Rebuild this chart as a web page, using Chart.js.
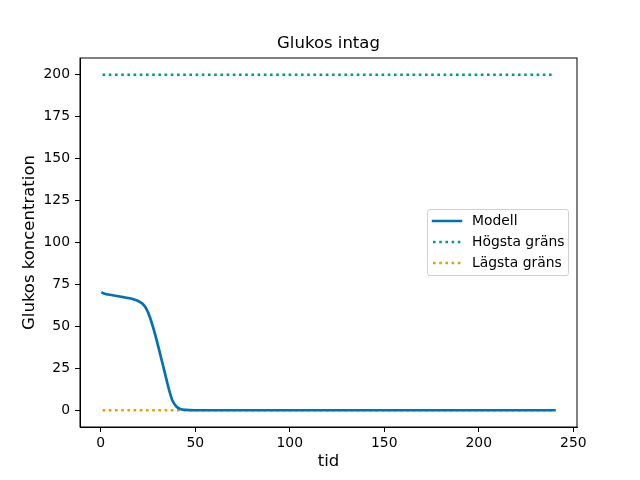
<!DOCTYPE html>
<html>
<head>
<meta charset="utf-8">
<script src="https://cdn.jsdelivr.net/npm/chart.js@4.4.1/dist/chart.umd.min.js"></script>
<style>
  body { margin: 0; background: #fff; }
  #wrap { position: relative; width: 640px; height: 480px; }
  #legend {
    position: absolute; left: 427px; top: 209px; width: 140px; height: 65px;
    border: 1px solid #d0d0d0; border-radius: 3px; background: rgba(255,255,255,0.8);
    font-family: "DejaVu Sans", sans-serif; font-size: 13.9px; color: #000;
  }
  .row { position: absolute; left: 0; height: 20px; width: 140px; }
  .row svg { position: absolute; left: 2px; top: 4px; }
  .row span { position: absolute; left: 44px; top: 1px; white-space: nowrap; }
</style>
</head>
<body>
<div id="wrap">
  <canvas id="glukosChart" width="640" height="480"></canvas>
  <div id="legend"></div>
</div>
<script>
// tid och glukosvärden
const tid = [1, 2, 4, 7, 10, 13, 16, 18, 20, 22, 24, 26, 28, 30, 32, 34, 36, 38, 40, 42, 45, 50, 240];
const modell = [70, 69.4, 69, 68.4, 67.8, 67.2, 66.6, 65.9, 65, 63.6, 60.7, 55.6, 48.3, 40, 31, 22, 12.8, 5.6, 2.2, 0.8, 0.2, 0, 0];

const gransTid = [1, 240];
const hogstaGrans = [200, 200];
const lagstaGrans = [0, 0];

const xTicks = [0, 50, 100, 150, 200, 250];
const yTicks = [0, 25, 50, 75, 100, 125, 150, 175, 200];

const titel = 'Glukos intag';

const colModell = '#0072B2';
const colHogsta = '#009E73';
const colLagsta = '#E69F00';

const font = "'DejaVu Sans', sans-serif";

const toXY = (xs, ys) => xs.map((x, i) => ({ x: x, y: ys[i] }));

// ram runt ritytan + titel centrerad över ritytan
const frame = {
  id: 'frame',
  afterDraw(chart) {
    const { ctx, chartArea: a } = chart;
    ctx.save();
    ctx.strokeStyle = '#000';
    ctx.lineWidth = 1;
    ctx.strokeRect(a.left, a.top, a.right - a.left, a.bottom - a.top);
    ctx.fillStyle = '#000';
    ctx.font = '16.5px ' + font;
    ctx.textAlign = 'center';
    ctx.textBaseline = 'middle';
    ctx.fillText(titel, (a.left + a.right) / 2, 44);
    ctx.restore();
  }
};

const axisStyle = {
  grid: { display: true, drawOnChartArea: false, drawTicks: true, tickLength: 5, color: '#000' },
  border: { display: true, color: '#000', width: 1 }
};

new Chart(document.getElementById('glukosChart'), {
  type: 'line',
  data: {
    datasets: [
      {
        label: 'Modell',
        data: toXY(tid, modell),
        borderColor: colModell,
        borderWidth: 2.7,
        borderCapStyle: 'square',
        cubicInterpolationMode: 'monotone',
        pointRadius: 0
      },
      {
        label: 'Högsta gräns',
        data: toXY(gransTid, hogstaGrans),
        borderColor: colHogsta,
        borderWidth: 2.5,
        borderDash: [2.6, 3.6],
        pointRadius: 0
      },
      {
        label: 'Lägsta gräns',
        data: toXY(gransTid, lagstaGrans),
        borderColor: colLagsta,
        borderWidth: 2.5,
        borderDash: [2.6, 3.6],
        pointRadius: 0
      }
    ]
  },
  options: {
    responsive: false,
    animation: false,
    layout: { padding: { left: 0, right: 63, top: 58, bottom: 0 } },
    plugins: {
      legend: { display: false },
      tooltip: { enabled: false },
      title: { display: false }
    },
    scales: {
      x: {
        type: 'linear',
        min: -10.95,
        max: 251.95,
        ...axisStyle,
        afterBuildTicks: s => { s.ticks = xTicks.map(v => ({ value: v })); },
        afterFit: s => { s.height = 53; },
        ticks: { color: '#000', padding: 3, font: { family: font, size: 13.9 } },
        title: {
          display: true, text: 'tid', color: '#000',
          font: { family: font, size: 16.5 }, padding: { top: 0, bottom: 8 }
        }
      },
      y: {
        type: 'linear',
        min: -10,
        max: 210,
        ...axisStyle,
        afterBuildTicks: s => { s.ticks = yTicks.map(v => ({ value: v })); },
        afterFit: s => { s.width = 80; },
        ticks: { color: '#000', padding: 5, font: { family: font, size: 13.9 } },
        title: {
          display: true, text: 'Glukos koncentration', color: '#000',
          font: { family: font, size: 16.5 }, padding: { top: 19.5, bottom: 0 }
        }
      }
    }
  },
  plugins: [frame]
});

// förklaring
const legendItems = [
  { label: 'Modell', color: colModell, dash: '' },
  { label: 'Högsta gräns', color: colHogsta, dash: '2.6 3.6' },
  { label: 'Lägsta gräns', color: colLagsta, dash: '2.6 3.6' }
];
const legend = document.getElementById('legend');
legendItems.forEach((item, i) => {
  const row = document.createElement('div');
  row.className = 'row';
  row.style.top = (1 + i * 21) + 'px';
  row.innerHTML =
    '<svg width="34" height="12"><line x1="3" y1="6" x2="31" y2="6" stroke="' + item.color +
    '" stroke-width="2.5"' + (item.dash ? ' stroke-dasharray="' + item.dash + '"' : ' stroke-linecap="square"') +
    '/></svg><span>' + item.label + '</span>';
  legend.appendChild(row);
});
</script>
</body>
</html>
